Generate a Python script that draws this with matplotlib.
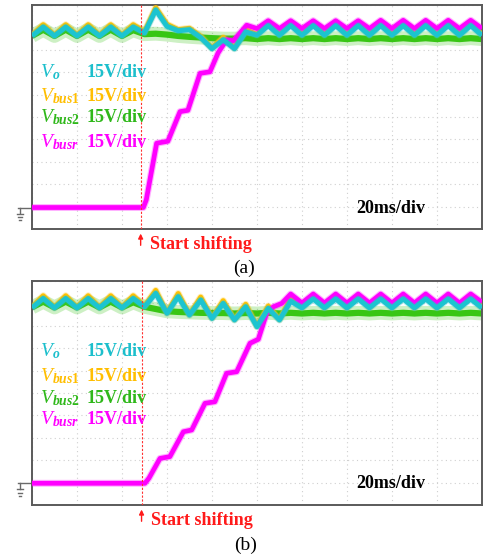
import numpy as np
import matplotlib.pyplot as plt
from matplotlib import transforms

plt.rcParams['font.family'] = ['Liberation Serif', 'DejaVu Serif']
plt.rcParams['mathtext.fontset'] = 'custom'
plt.rcParams['mathtext.it'] = 'Liberation Serif:italic:bold'
plt.rcParams['mathtext.sf'] = 'Liberation Serif:italic'
plt.rcParams['mathtext.rm'] = 'Liberation Serif:bold'
plt.rcParams['mathtext.bf'] = 'Liberation Serif:bold'

CYAN = '#1cc4d0'
YELLOW = '#ffc000'
GREEN = '#38c614'
MAGENTA = '#ff00ff'

# screen units: time in ms (20 ms/div), voltage in divisions (15 V/div) from the bottom
t_grid = np.arange(0, 201, 5)

# ---- (a) ----
t_start_a = 48.3
vo_a = [8.62, 9.02, 8.62, 9.02, 8.62, 9.02, 8.62, 9.02, 8.62, 9.02,
        8.75, 9.78, 9.05, 8.85, 8.90, 8.55, 8.05, 8.45, 8.05, 8.80,
        8.65, 9.08, 8.65, 9.08, 8.65, 9.08, 8.65, 9.08, 8.65, 9.08,
        8.65, 9.08, 8.65, 9.08, 8.65, 9.08, 8.65, 9.08, 8.65, 9.08,
        8.65]
vbus1_a = [8.65, 9.12, 8.65, 9.12, 8.65, 9.12, 8.65, 9.12, 8.65, 9.12,
           8.80, 9.88, 9.14, 8.90, 8.96, 8.60, 8.08, 8.55, 8.08, 8.90,
           8.68, 9.20, 8.68, 9.20, 8.68, 9.20, 8.68, 9.20, 8.68, 9.22,
           8.68, 9.20, 8.68, 9.22, 8.68, 9.20, 8.68, 9.22, 8.68, 9.22,
           8.68]
vbus2_a = [8.62, 8.90, 8.62, 8.90, 8.62, 8.90, 8.62, 8.90, 8.62, 8.88,
           8.70, 8.72, 8.68, 8.62, 8.58, 8.55, 8.52, 8.50, 8.50, 8.52,
           8.48, 8.52, 8.48, 8.52, 8.48, 8.52, 8.48, 8.52, 8.48, 8.52,
           8.48, 8.52, 8.48, 8.52, 8.48, 8.52, 8.48, 8.52, 8.48, 8.52,
           8.48]
tm_a = [0, 49.5, 50.8, 55.4, 60.4, 65.8, 69.3, 74.7, 79.1, 82.7, 86.5, 89.5,
        95.4, 100, 105, 110, 115, 120, 125, 130, 135, 140, 145, 150, 155,
        160, 165, 170, 175, 180, 185, 190, 195, 200]
vbusr_a = [0.96, 0.96, 1.30, 3.83, 3.92, 5.24, 5.30, 6.95, 7.02, 7.86, 8.45, 8.40,
           9.10, 8.95, 9.30, 8.95, 9.30, 8.95, 9.30, 8.95, 9.30, 8.95, 9.30, 8.95, 9.32,
           8.95, 9.32, 8.95, 9.32, 8.95, 9.32, 8.95, 9.32, 8.95]

# ---- (b) ----
t_start_b = 48.7
vo_b = [8.80, 9.22, 8.80, 9.22, 8.80, 9.22, 8.80, 9.22, 8.80, 9.22,
        8.85, 9.45, 8.56, 9.30, 8.48, 9.15, 8.33, 9.00, 8.26, 8.85,
        7.96, 8.78, 8.26, 9.10, 8.80, 9.20, 8.80, 9.20, 8.80, 9.20,
        8.80, 9.20, 8.80, 9.20, 8.80, 9.20, 8.80, 9.20, 8.80, 9.20,
        8.80]
vbus1_b = [8.82, 9.34, 8.82, 9.34, 8.82, 9.34, 8.82, 9.34, 8.82, 9.34,
           8.88, 9.58, 8.58, 9.44, 8.50, 9.28, 8.35, 9.12, 8.28, 8.96,
           7.98, 8.88, 8.28, 9.22, 8.82, 9.32, 8.82, 9.32, 8.82, 9.32,
           8.82, 9.32, 8.82, 9.32, 8.82, 9.32, 8.82, 9.34, 8.82, 9.34,
           8.82]
vbus2_b = [8.82, 9.08, 8.82, 9.08, 8.82, 9.08, 8.82, 9.08, 8.82, 9.05,
           8.85, 8.75, 8.65, 8.62, 8.60, 8.58, 8.57, 8.57, 8.55, 8.57,
           8.55, 8.58, 8.55, 8.58, 8.55, 8.58, 8.55, 8.58, 8.55, 8.58,
           8.55, 8.58, 8.55, 8.58, 8.55, 8.58, 8.55, 8.58, 8.55, 8.58,
           8.55]
tm_b = [0, 50.2, 52.0, 56.9, 61.3, 67.3, 71.0, 76.9, 81.3, 86.5, 91.0, 96.9,
        100.6, 104.3, 107.3, 111.0, 115, 120, 125, 130, 135, 140, 145, 150,
        155, 160, 165, 170, 175, 180, 185, 190, 195, 200]
vbusr_b = [0.97, 0.97, 1.20, 2.08, 2.16, 3.27, 3.35, 4.54, 4.61, 5.88, 5.95, 7.22,
           7.40, 8.56, 8.85, 9.00, 9.42, 9.02, 9.42, 9.02, 9.42, 9.02, 9.42, 9.02,
           9.42, 9.02, 9.42, 9.02, 9.42, 9.02, 9.42, 9.02, 9.42, 9.05]

channel_names = [r'$\mathsf{V}_{\mathit{o}}$', r'$\mathsf{V}_{\mathit{bus1}}$',
                 r'$\mathsf{V}_{\mathit{bus2}}$', r'$\mathsf{V}_{\mathit{busr}}$']
channel_scale = '15V/div'
label_colors = ['#1cbfcc', '#ffbe00', '#2fb81a', '#ff00ff']
label_rows_a = [6.79, 5.71, 4.78, 3.66]
label_rows_b = [6.65, 5.54, 4.54, 3.62]


def trace(ax, t, v, color, lw, fuzz, z, alpha=0.3):
    ax.plot(t, v, color=color, lw=fuzz, alpha=alpha, zorder=z,
            solid_joinstyle='round', solid_capstyle='butt')
    ax.plot(t, v, color=color, lw=lw, zorder=z + 0.5,
            solid_joinstyle='round', solid_capstyle='butt')


def panel(ax, vo, vb1, vb2, tm, vbr, t_start, rows, ms_row, ground):
    ax.set_xlim(0, 200)
    ax.set_ylim(0, 10)
    ax.set_xticks(np.arange(0, 201, 20))
    ax.set_yticks(np.arange(0, 11, 1))
    ax.tick_params(length=0, labelbottom=False, labelleft=False)
    ax.grid(True, color='#cfcfcf', lw=0.8, ls=(0, (1, 3)))
    for s in ax.spines.values():
        s.set_color('#5a5a5a')
        s.set_linewidth(1.4)

    trace(ax, t_grid, vb2, GREEN, 4.5, 10.0, 2, alpha=0.25)
    trace(ax, t_grid, vb1, YELLOW, 3.6, 5.0, 3)
    trace(ax, tm, vbr, MAGENTA, 3.4, 5.0, 4)
    trace(ax, t_grid, vo, CYAN, 3.6, 5.0, 5)

    ax.axvline(t_start, color='#ff3030', lw=0.8, ls=(0, (2, 1.5)), zorder=6)

    for name, col, y in zip(channel_names, label_colors, rows):
        ax.text(3.6, y, name, color=col, fontsize=14, va='baseline', zorder=7)
        ax.text(24.4, y, channel_scale, color=col, fontsize=13,
                fontweight='bold', va='baseline', zorder=7)
    ax.text(144.0, ms_row, '20ms/div', color='black', fontsize=13,
            fontweight='bold', va='baseline', zorder=7)

    ax.annotate('', xy=(t_start, -0.08), xytext=(t_start, -0.85),
                arrowprops=dict(arrowstyle='-|>', color='#ff1a1a', lw=1.0,
                                mutation_scale=7),
                annotation_clip=False)
    ax.text(t_start + 4.0, -0.89, 'Start shifting', color='#ff1a1a',
            fontsize=13, fontweight='bold', va='baseline', clip_on=False)

    # ground marker
    tr = transforms.blended_transform_factory(ax.transAxes, ax.transData)
    gk = dict(color='#6a6a6a', lw=1.0, transform=tr, clip_on=False)
    ax.plot([-0.031, 0], [ground, ground], **gk)
    ax.plot([-0.027, -0.027], [ground, ground - 0.25], **gk)
    ax.plot([-0.033, -0.021], [ground - 0.27, ground - 0.27], **gk)
    ax.plot([-0.031, -0.023], [ground - 0.42, ground - 0.42], **gk)
    ax.plot([-0.029, -0.025], [ground - 0.57, ground - 0.57], **gk)


fig = plt.figure(figsize=(4.89, 5.59), dpi=100)
ax_a = fig.add_axes([0.0654, 0.5903, 0.9202, 0.4007])
ax_b = fig.add_axes([0.0654, 0.0966, 0.9202, 0.4007])

panel(ax_a, vo_a, vbus1_a, vbus2_a, tm_a, vbusr_a, t_start_a,
      label_rows_a, 0.71, 0.96)
panel(ax_b, vo_b, vbus1_b, vbus2_b, tm_b, vbusr_b, t_start_b,
      label_rows_b, 0.76, 0.97)

fig.text(0.499, 0.5206, '(a)', fontsize=14, ha='center', va='center')
fig.text(0.503, 0.025, '(b)', fontsize=14, ha='center', va='center')

fig.savefig('out.png', dpi=100)
